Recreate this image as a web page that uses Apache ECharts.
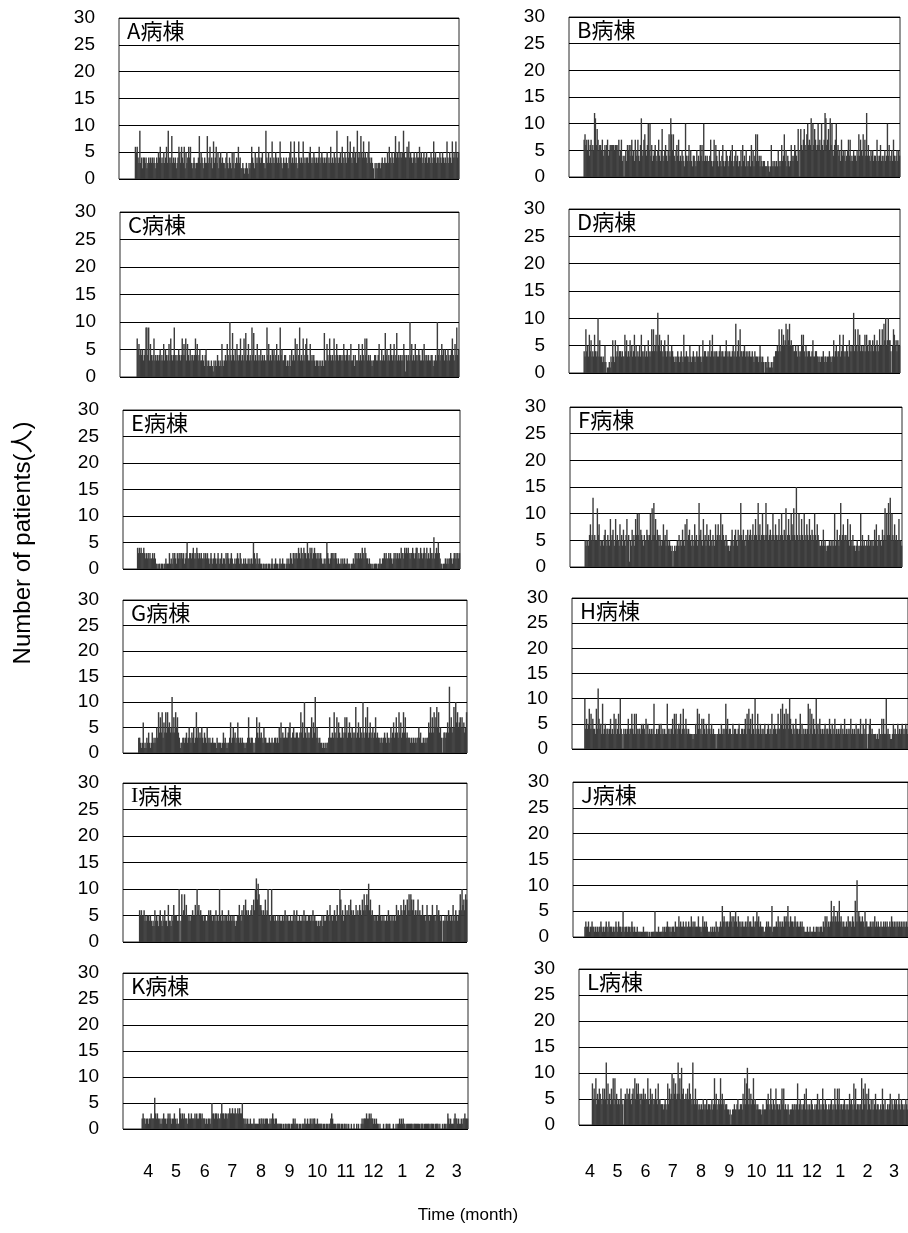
<!DOCTYPE html>
<html>
<head>
<meta charset="utf-8">
<title>Daily patients by ward</title>
<script src="https://cdn.jsdelivr.net/npm/echarts@6/dist/echarts.min.js"></script>
<style>
  html, body { margin: 0; padding: 0; background: #fff; }
  #chart { width: 908px; height: 1233px; }
</style>
</head>
<body>
<div id="chart"></div>
<script>
// Ward names, one small panel per ward
const wardNames = ['A病棟', 'B病棟', 'C病棟', 'D病棟', 'E病棟', 'F病棟',
                   'G病棟', 'H病棟', 'I病棟', 'J病棟', 'K病棟', 'L病棟'];

// Month tick labels (fiscal year, April to March) and month lengths
const monthLabels = ['4', '5', '6', '7', '8', '9', '10', '11', '12', '1', '2', '3'];
const monthDays = [30, 31, 30, 31, 31, 30, 31, 30, 31, 31, 28, 31];

// Y axis ticks
const yTicks = [0, 5, 10, 15, 20, 25, 30];

// Daily patient counts, April 1 to March 31 (365 days per ward)
const wardA = [
6,5,6,4,3,9,3,4,2,4, 4,3,4,2,3,4,3,4,3,4, 3,4,3,2,4,3,5,4,6,3, 4,3,5,3,4,6,3,9,4,3, 4,8,3,4,3,4,2,3,4,6,
5,3,6,4,3,6,2,5,3,4, 6,4,6,3,2,3,4,3,2,3, 3,4,8,3,5,4,3,2,4,3, 3,8,3,4,6,3,4,2,7,3, 4,6,3,5,2,4,5,3,4,3,
3,2,4,5,3,2,4,3,2,5, 3,5,2,3,4,3,6,3,4,2, 2,3,2,1,2,3,2,1,3,2, 3,6,4,3,2,5,3,4,3,6, 4,3,4,5,3,3,2,9,4,3,
5,3,4,3,7,3,4,3,5,4, 3,4,3,7,4,3,2,4,3,3, 4,3,2,4,5,7,3,4,3,7, 3,4,3,2,7,4,3,4,3,7, 3,4,3,4,4,3,5,6,3,4,
3,5,4,3,4,3,4,6,3,4, 5,4,3,4,3,4,5,3,4,3, 6,3,4,3,5,4,3,9,4,3, 4,5,3,6,4,3,5,4,3,8, 4,5,7,4,3,5,6,4,5,3,
9,4,5,4,8,5,4,7,4,5, 4,3,5,7,4,3,4,3,2,0, 3,2,3,2,3,3,2,3,4,3, 3,4,3,3,5,3,6,4,3,5, 4,3,5,8,4,5,4,7,4,5,
4,5,9,5,4,4,6,5,7,4, 5,4,3,4,5,4,3,5,4,4, 6,4,5,3,4,5,3,4,5,3, 4,4,3,5,4,3,7,4,5,3, 4,4,3,5,4,3,5,4,3,4,
3,7,4,3,5,4,3,7,4,5, 4,7,5,4,5
];
const wardB = [
7,8,6,7,5,7,4,6,7,5, 6,5,12,11,6,9,7,5,6,6, 5,7,4,5,6,5,6,7,4,5, 6,6,6,6,6,5,6,6,6,5, 7,4,5,7,3,4,0,4,5,3,
6,5,6,4,6,7,4,5,3,7, 4,5,7,4,3,6,11,4,5,7, 8,5,4,6,10,5,10,4,6,3, 4,5,6,4,3,5,7,4,3,5, 9,4,3,5,6,4,3,5,8,4,
11,8,5,8,4,3,5,6,4,7, 3,4,3,5,4,3,2,10,4,3, 4,6,3,5,3,2,4,4,3,2, 5,3,4,3,6,4,6,3,10,3, 4,3,4,3,3,4,7,3,2,3,
7,3,6,4,3,2,5,3,2,4, 6,3,2,3,5,4,3,2,4,5, 3,6,2,3,4,5,3,4,2,3, 3,5,2,6,3,4,2,5,3,2, 3,4,2,6,3,5,2,4,8,3,
8,3,4,2,4,3,2,3,3,2, 2,2,3,2,1,2,6,2,3,2, 3,2,3,2,5,3,2,3,6,3, 4,8,3,5,2,4,3,2,3,6, 4,3,4,6,5,4,3,9,5,0,
9,6,5,7,9,6,5,8,10,6, 7,6,11,5,10,6,9,7,5,6, 10,6,7,5,10,6,5,7,12,11, 6,7,9,5,11,6,10,5,4,6, 7,10,5,6,4,5,3,7,4,5,
4,5,3,4,5,7,4,7,3,4, 3,5,4,4,3,5,4,8,4,7, 5,4,8,5,7,4,12,4,6,4, 3,5,4,5,3,4,4,3,7,4, 3,4,6,3,4,3,4,5,3,4,
10,4,6,3,4,5,3,7,4,3, 4,5,3,5,4
];
const wardC = [
7,5,6,4,5,4,5,3,4,5, 9,9,4,9,3,6,4,3,4,7, 3,4,3,4,3,4,5,3,4,3, 6,3,5,4,3,4,6,3,7,4, 3,4,9,4,3,4,3,5,4,3,
4,7,4,6,4,7,3,6,4,3, 5,3,4,4,3,4,7,4,6,3, 4,5,3,3,4,3,2,4,5,3, 2,3,2,2,3,2,1,3,2,3, 2,4,3,2,3,2,6,3,2,3,
4,3,6,4,3,10,4,3,8,4, 3,5,3,6,4,3,4,7,3,4, 3,7,4,8,3,4,6,3,4,3, 9,4,8,3,4,3,6,3,4,3, 5,3,4,3,4,3,3,9,4,6,
3,4,3,5,4,5,3,4,6,3, 4,3,9,4,5,3,3,4,4,2, 3,2,3,4,2,5,3,4,3,7, 4,6,3,4,9,3,4,3,7,3, 4,6,7,4,3,3,6,3,4,3,
4,3,2,3,3,2,3,2,3,2, 3,2,8,3,3,6,4,3,7,4, 3,4,3,7,4,3,6,4,3,4, 4,3,4,3,6,4,3,4,5,3, 4,3,6,3,3,4,2,4,3,3,
3,6,3,4,3,6,4,3,7,4, 7,3,4,3,4,3,2,3,3,4, 4,3,3,4,6,3,3,5,3,4, 3,8,4,5,3,4,3,6,4,3, 4,6,3,4,8,3,4,3,4,3,
4,3,6,4,1,4,3,4,3,10, 4,6,3,4,3,6,4,3,4,5, 4,3,3,5,3,6,4,3,4,3, 4,3,3,4,4,3,2,3,4,3, 10,4,5,3,4,6,4,5,3,5,
4,3,5,4,3,4,5,7,4,3, 6,4,9,4,5
];
const wardD = [
4,3,8,4,5,3,7,4,6,3, 4,3,7,4,3,4,10,3,6,3, 3,2,3,2,5,2,0,1,1,2, 1,3,2,6,3,2,6,3,4,5, 3,4,4,3,4,3,3,7,4,6,
3,4,3,6,4,5,3,4,7,3, 5,3,4,3,5,3,7,4,3,4, 5,3,4,3,6,4,3,4,8,4, 8,4,5,7,4,11,5,7,4,6, 4,3,5,6,4,3,4,7,3,4,
3,5,4,3,2,3,2,3,4,3, 2,3,4,3,2,7,3,3,4,3, 3,2,5,3,2,3,4,3,2,3, 4,3,3,5,3,2,3,6,3,4, 4,3,3,4,3,6,3,4,7,3,
4,3,4,4,3,3,4,5,3,4, 4,3,3,4,6,3,4,3,4,3, 3,4,5,3,4,9,3,4,6,3, 8,4,4,3,4,5,3,4,3,4, 3,4,3,3,4,3,2,4,3,3,
3,2,3,5,3,2,3,2,0,2, 2,1,3,2,1,1,2,1,2,3, 3,4,4,5,4,8,5,4,8,5, 7,5,6,9,5,8,6,9,5,6, 5,5,4,4,5,4,3,5,4,3,
4,7,5,7,4,3,5,4,3,4, 4,3,3,4,6,3,3,4,4,3, 3,2,3,2,3,3,4,2,3,3, 2,3,3,4,3,2,3,3,6,3, 4,5,3,4,4,7,3,4,5,7,
4,3,4,5,4,3,6,4,5,4, 5,11,4,8,5,4,8,5,7,4, 5,4,5,4,7,4,7,5,4,6, 6,4,5,6,4,7,5,4,6,5, 4,8,5,5,8,5,9,6,10,5,
6,10,6,6,4,0,5,8,7,5, 6,4,6,5,5
];
const wardE = [
4,3,4,3,4,3,3,4,3,2, 3,2,3,2,3,2,2,3,2,3, 2,1,1,0,1,1,0,1,1,0, 1,1,2,1,1,1,3,1,2,1, 3,2,3,2,1,3,2,3,2,3,
3,2,3,1,2,3,5,2,2,3, 3,2,3,4,2,3,2,4,3,2, 3,2,3,2,2,3,2,3,2,3, 2,1,2,3,2,1,2,3,2,1, 2,3,2,1,2,3,1,2,2,1,
3,2,3,2,1,2,3,2,1,1, 2,1,2,3,2,1,3,2,1,1, 2,1,2,1,1,2,1,2,1,2, 1,5,3,2,1,3,2,1,2,1, 1,0,1,1,0,1,1,0,1,1,
0,1,2,1,0,1,2,1,1,0, 1,2,1,1,2,1,1,0,1,2, 1,2,1,3,2,1,3,2,3,2, 3,2,4,3,2,4,3,2,4,3, 3,2,5,3,2,4,3,4,2,3,
4,3,2,3,2,3,2,3,2,1, 1,2,1,2,5,3,2,1,2,3, 3,2,3,2,3,2,1,2,1,1, 2,1,2,1,2,1,1,2,1,1, 1,0,1,1,2,1,3,2,3,2,
3,2,3,2,4,3,2,4,3,2, 2,1,2,1,1,0,1,0,1,1, 1,0,1,1,2,1,1,2,2,3, 2,3,2,2,3,2,3,2,1,2, 3,2,3,2,3,2,3,2,4,3,
3,2,4,3,4,3,4,3,2,3, 3,4,3,2,3,4,4,2,3,2, 4,3,2,3,4,3,2,4,2,3, 2,4,3,2,3,6,2,3,4,3, 5,3,2,1,1,0,1,1,2,1,
2,1,2,2,3,2,1,2,3,2, 3,2,3,2,3
];
const wardF = [
5,4,5,5,4,6,8,5,6,13, 5,6,5,5,11,6,8,5,4,5, 5,4,6,7,5,4,6,5,4,9, 5,6,7,5,4,9,5,6,5,4, 8,5,6,4,7,5,4,6,9,5,
6,1,5,4,7,5,6,4,9,6, 10,6,10,5,7,6,5,4,6,5, 5,7,6,5,6,10,5,11,6,12, 6,9,5,7,6,4,6,5,4,5, 8,5,6,4,7,5,4,5,4,3,
4,0,3,4,3,4,5,4,6,4, 5,4,7,5,4,8,5,9,5,6, 7,5,4,6,5,4,8,5,6,4, 5,12,6,7,5,4,9,5,6,4, 8,5,6,4,7,5,4,6,5,4,
8,5,6,8,5,6,10,5,8,6, 5,4,6,5,4,4,3,4,5,7, 5,4,6,7,5,4,7,5,6,12, 6,5,7,5,4,6,5,7,5,6, 7,5,6,8,5,6,9,6,5,12,
6,8,5,6,10,6,5,6,12,6, 8,5,6,7,5,6,10,6,5,8, 6,5,6,9,5,6,10,6,5,7, 6,11,5,6,9,6,5,10,8,6, 11,6,5,15,6,5,10,6,5,9,
6,5,10,6,5,8,6,5,9,6, 5,7,6,5,10,6,5,8,6,5, 4,4,5,4,7,4,5,4,3,4, 4,5,4,5,4,5,4,10,4,5, 7,5,4,6,12,5,6,8,5,6,
6,5,9,5,4,8,5,4,6,4, 4,3,4,5,4,3,4,10,4,6, 4,5,4,4,5,4,6,4,5,5, 4,5,4,7,5,8,4,5,6,5, 5,4,7,5,6,11,5,10,6,12,
6,13,5,10,6,5,8,5,6,5, 5,9,5,5,4
];
const wardG = [
3,3,2,1,2,6,1,2,1,3, 2,4,2,1,2,4,2,3,2,3, 5,3,8,4,7,4,8,3,6,4, 8,4,8,5,6,4,5,11,4,7, 4,8,5,7,4,3,1,2,2,3,
3,2,3,4,2,3,5,3,2,4, 3,5,2,3,8,3,5,3,4,3, 5,3,2,4,3,2,5,3,2,3, 2,2,3,2,2,2,1,3,2,2, 2,2,1,2,4,2,3,2,1,2,
2,3,6,2,3,5,3,4,2,3, 6,3,2,3,2,3,2,2,1,2, 2,3,7,3,2,3,3,2,0,2, 3,7,4,3,6,3,4,3,2,5, 3,3,2,2,2,3,2,2,3,2,
2,3,3,2,3,2,5,3,6,3, 4,3,3,5,3,3,4,5,6,3, 3,4,5,3,3,4,4,3,3,4, 8,4,6,3,10,4,3,5,3,4, 3,5,7,3,6,4,11,3,5,3,
2,3,2,2,1,2,1,2,1,2, 2,3,7,3,3,4,3,8,4,3, 7,3,6,4,3,3,5,3,4,7, 4,7,3,4,6,4,3,5,4,3, 4,9,3,4,6,3,5,4,3,10,
4,3,7,4,9,3,4,6,3,4, 5,3,4,7,3,4,3,3,2,3, 3,2,3,4,3,2,4,3,2,3, 5,3,4,6,3,4,7,4,3,8, 4,6,3,4,8,4,7,3,4,3,
3,3,2,3,2,3,2,3,2,3, 3,5,3,4,2,2,3,2,3,2, 3,3,6,4,9,4,7,4,8,5, 7,9,5,8,4,5,3,0,3,4, 4,3,4,6,4,13,5,7,4,5,
9,5,10,6,8,5,6,7,5,7, 5,6,4,5,8
];
const wardH = [
10,4,6,4,5,8,4,7,4,6, 4,4,3,8,4,12,6,4,5,3, 9,3,4,5,3,4,4,3,4,6, 3,4,3,7,4,6,3,4,7,3, 10,4,3,0,4,3,4,3,4,6,
3,4,4,7,4,3,7,3,7,4, 3,4,4,3,5,4,5,4,3,6, 3,5,3,4,3,4,3,4,9,3, 3,4,3,4,5,3,5,3,4,3, 4,3,3,9,4,3,4,3,4,6,
3,7,4,7,3,4,5,4,7,3, 4,8,4,3,6,4,3,4,3,3, 3,3,2,3,3,5,3,8,4,7, 4,3,6,3,6,4,3,5,3,4, 7,4,3,5,3,4,3,3,0,3,
3,4,3,3,5,3,4,3,4,9, 4,6,3,4,4,3,3,5,3,4, 4,3,3,4,5,3,3,4,4,3, 4,6,3,7,4,8,4,6,3,7, 4,3,10,4,3,7,4,3,5,3,
4,3,4,5,3,3,4,5,3,4, 3,7,3,4,5,4,3,4,7,4, 4,8,5,9,4,7,4,8,5,7, 4,10,6,4,3,5,4,3,6,4, 4,3,4,7,3,5,3,4,3,4,
3,4,9,3,8,4,7,3,6,4, 3,10,4,5,3,6,4,3,4,3, 4,5,3,4,4,3,6,4,3,5, 3,4,6,3,4,3,4,3,4,5, 3,4,3,6,3,4,3,4,3,4,
6,3,4,3,4,3,5,3,4,4, 3,6,3,3,5,3,4,6,3,0, 3,5,6,3,4,3,3,3,3,2, 3,2,4,3,3,6,3,6,3,3, 10,3,4,3,3,2,2,3,5,3,
4,3,3,5,3,4,3,4,5,3, 4,3,5,4,3
];
const wardI = [
6,5,6,5,5,6,4,5,4,5, 5,4,5,4,3,4,3,6,4,5, 4,3,5,6,4,3,5,4,6,4, 4,3,7,4,4,3,5,4,7,5, 5,5,4,4,10,0,4,9,5,6,
9,5,7,5,5,4,5,4,5,6, 5,5,7,5,10,6,7,5,6,5, 5,4,5,5,4,4,5,6,5,6, 5,4,5,5,4,6,4,5,4,10, 5,4,6,4,5,4,5,5,4,6,
4,5,4,5,4,5,4,3,4,5, 5,7,5,4,6,5,7,5,8,6, 5,6,5,5,6,7,5,8,6,10, 12,8,11,9,7,7,6,5,6,5, 8,5,6,10,5,5,4,10,5,5,
4,5,4,4,5,4,5,4,4,5, 4,5,6,4,5,5,4,4,5,4, 4,5,6,4,5,6,4,4,5,4, 4,5,4,6,4,5,4,4,5,5, 4,5,4,6,4,5,4,4,3,4,
3,4,4,5,3,5,4,4,5,6, 5,4,7,5,5,4,5,6,5,4, 7,5,5,10,8,5,6,4,5,7, 5,6,5,7,5,8,6,5,6,5, 5,7,5,6,5,7,6,5,8,6,
9,6,7,9,7,11,6,8,5,6, 5,5,4,5,5,4,5,7,5,4, 5,4,5,4,4,5,4,6,5,4, 5,4,5,4,5,4,7,5,6,5, 5,7,6,5,8,6,7,5,8,6,
9,6,9,8,6,8,5,6,5,6, 8,5,6,5,5,7,5,5,4,5, 7,5,5,4,5,5,7,5,5,4, 5,7,5,6,5,4,5,0,4,4, 5,4,5,4,6,5,4,5,4,7,
5,4,6,5,4,5,6,9,6,10, 7,8,6,9,8
];
const wardJ = [
2,3,2,2,3,1,2,2,3,2, 2,1,2,1,2,1,2,2,3,2, 1,2,1,2,3,2,1,3,2,2, 2,1,2,1,2,3,2,1,3,2, 2,1,2,5,2,1,2,2,1,2,
2,1,2,3,2,1,2,1,1,2, 1,1,1,1,1,1,2,1,1,1, 1,1,0,1,0,1,1,1,1,5, 1,1,1,2,1,1,1,1,2,1, 2,1,2,3,2,2,1,2,1,2,
2,1,3,2,2,2,4,2,3,2, 2,3,2,2,3,2,2,3,2,2, 4,2,3,2,3,2,2,2,4,2, 2,1,2,4,2,3,2,3,2,1, 1,1,2,1,2,1,2,1,3,2,
2,1,2,3,2,6,3,4,3,2, 3,3,2,3,5,3,4,2,4,3, 5,3,2,4,3,2,3,2,3,2, 2,3,2,3,4,2,3,3,2,2, 4,2,3,3,5,3,4,2,3,2,
2,2,1,1,2,3,2,3,2,2, 2,6,1,2,2,2,3,2,4,3, 2,3,2,3,2,4,3,4,3,6, 3,2,4,3,3,2,3,4,3,2, 3,2,2,3,2,3,2,2,1,1,
1,2,1,1,2,1,1,1,2,1, 1,2,2,1,2,1,2,2,1,3, 2,4,3,4,2,3,2,3,7,3, 4,6,3,4,3,5,3,7,3,4, 3,2,3,2,2,3,2,4,3,3,
3,2,4,3,2,7,3,11,3,5, 4,3,3,4,3,2,5,3,3,2, 2,2,3,2,3,2,3,4,2,3, 2,3,2,2,3,2,2,3,2,3, 2,3,2,2,3,2,4,3,2,3,
2,3,2,3,2,3,2,3,2,3, 2,3,2,3,2
];
const wardK = [
2,3,2,2,1,2,2,1,2,2, 3,2,2,2,6,3,2,3,2,2, 1,2,1,2,3,2,2,1,2,3, 2,3,2,1,2,2,3,2,1,2, 1,1,4,3,2,3,2,3,2,2,
2,1,3,2,2,3,2,2,2,3, 2,3,2,2,3,3,2,3,2,2, 2,1,2,1,2,2,1,2,5,3, 3,2,3,3,2,3,2,2,3,5, 3,3,2,3,3,2,3,3,4,3,
3,4,3,3,4,3,3,4,3,4, 3,3,5,2,2,1,2,1,2,1, 1,2,1,1,1,2,1,1,1,1, 1,2,1,2,2,1,2,1,2,2, 2,1,1,2,1,2,3,2,1,2,
2,1,1,1,1,1,1,0,1,0, 1,1,0,1,1,1,0,1,1,2, 1,2,1,1,1,0,1,1,0,1, 1,1,2,1,1,2,1,1,2,1, 2,1,2,2,1,1,2,1,1,1,
1,1,0,1,1,0,1,1,0,1, 1,2,3,2,1,1,1,0,1,1, 1,1,0,1,1,0,1,1,0,1, 0,1,0,0,1,0,0,1,0,0, 1,0,1,0,0,1,2,1,2,2,
2,3,2,2,3,2,3,2,2,1, 2,1,2,1,1,0,1,0,0,0, 1,0,0,1,1,0,1,1,0,0, 0,1,0,0,1,0,1,1,2,1, 2,1,2,1,1,0,1,1,1,1,
1,1,1,0,1,1,1,1,1,1, 1,0,1,1,1,0,1,1,1,1, 1,1,0,1,1,1,1,0,1,1, 1,1,0,1,0,0,1,0,1,1, 0,1,3,2,1,2,1,1,1,2,
3,2,2,1,2,1,1,2,1,2, 2,3,2,2,2
];
const wardL = [
8,5,7,5,9,4,6,5,7,6, 5,4,7,5,7,5,12,4,8,5, 6,4,7,5,9,4,9,5,6,4, 5,4,5,7,5,4,0,5,6,5, 7,5,6,7,5,4,6,7,5,9,
5,8,6,8,5,6,4,6,5,7, 5,6,5,5,9,5,4,7,5,6, 5,4,5,7,5,4,8,5,5,4, 4,4,3,4,5,4,3,8,4,7, 5,6,10,5,9,6,8,5,6,12,
6,9,5,11,6,7,5,5,6,5, 7,5,8,6,5,4,12,5,4,7, 4,5,4,3,4,3,4,3,5,4, 3,4,5,3,4,4,3,4,5,3, 4,9,4,6,3,4,5,4,9,4,
6,4,5,3,4,4,3,3,2,3, 0,2,3,3,4,3,3,4,5,3, 3,4,4,3,6,4,9,4,8,11, 4,7,4,6,4,5,9,4,5,4, 3,4,3,3,3,2,3,4,3,3,
3,5,4,6,4,3,7,4,3,5, 4,3,7,4,4,3,4,3,5,7, 4,7,3,4,3,3,4,3,2,3, 3,4,3,4,4,3,4,8,3,4, 5,3,4,3,4,6,3,7,3,4,
3,4,3,5,4,3,3,4,3,4, 6,3,5,3,4,3,7,4,3,5, 4,3,3,4,3,4,5,3,4,3, 7,4,3,7,4,7,3,4,4,3, 4,5,3,4,3,4,3,6,4,5,
4,3,8,4,7,3,4,4,3,4, 4,9,3,7,4,8,4,6,3,7, 4,3,5,3,5,3,4,6,3,4, 4,3,3,4,3,7,4,3,5,3, 3,4,3,4,6,3,5,4,3,5,
4,5,3,4,6,4,3,5,4,3, 4,3,5,4,3
];

const wardValues = [wardA, wardB, wardC, wardD, wardE, wardF,
                    wardG, wardH, wardI, wardJ, wardK, wardL];

// Panel frames in page pixels; `lead` = empty day slots before April 1
const panelBoxes = [
  { left: 119, top: 18,  width: 340, height: 161, lead: 18 },
  { left: 569, top: 17,  width: 331, height: 160, lead: 17 },
  { left: 120, top: 212, width: 339, height: 165, lead: 19 },
  { left: 569, top: 209, width: 331, height: 164, lead: 17 },
  { left: 123, top: 410, width: 337, height: 159, lead: 16 },
  { left: 570, top: 407, width: 332, height: 160, lead: 17 },
  { left: 123, top: 600, width: 344, height: 153, lead: 17 },
  { left: 572, top: 598, width: 345, height: 151, lead: 14 },
  { left: 123, top: 783, width: 344, height: 159, lead: 18 },
  { left: 573, top: 782, width: 344, height: 155, lead: 13 },
  { left: 123, top: 973, width: 345, height: 156, lead: 21 },
  { left: 579, top: 969, width: 346, height: 156, lead: 15 }
];

// Month label strips under the bottom row (left and right columns)
const monthStrips = [
  { left: 134, top: 1150, width: 337, height: 10 },
  { left: 576, top: 1150, width: 337, height: 10 }
];

const LATIN = '"Liberation Sans", Arial, "Noto Sans CJK JP", sans-serif';
const CJK = '"Noto Sans CJK JP", "Liberation Sans", sans-serif';
const SERIF = '"Liberation Serif", "DejaVu Serif", serif';
const BAR_COLOR = '#3c3c3c';

// Day index -> month label at the middle of each month
const monthMidLabel = {};
let dayStart = 0;
monthDays.forEach((len, m) => {
  monthMidLabel[dayStart + Math.floor(len / 2)] = monthLabels[m];
  dayStart += len;
});
const yearDays = dayStart;

const grids = [], xAxes = [], yAxes = [], series = [], titles = [];

// Ward caption; the letter "I" is set in a serif face like the printed caption
function wardCaption(name) {
  return name.charAt(0) === 'I' ? '{s|I}' + name.slice(1) : name;
}

// Daily bars: one rect per day, slightly wider than its slot so that
// neighbouring days merge into a solid silhouette without seams
function renderDayBar(params, api) {
  const v = api.value(1);
  if (v == null || isNaN(v)) return null;
  const top = api.coord([api.value(0), v]);
  const base = api.coord([api.value(0), 0]);
  const w = api.size([1, 0])[0] * 1.6;
  return {
    type: 'rect',
    shape: { x: top[0] - w / 2, y: top[1], width: w, height: base[1] - top[1] },
    style: { fill: BAR_COLOR }
  };
}

panelBoxes.forEach((box, i) => {
  const values = wardValues[i];
  const slots = box.lead + values.length;
  const cats = Array.from({ length: slots }, (_, k) => String(k));
  grids.push({
    left: box.left, top: box.top, width: box.width, height: box.height,
    show: true, borderColor: '#2a2a2a', borderWidth: 1, backgroundColor: '#fff'
  });
  xAxes.push({
    gridIndex: i, type: 'category', data: cats, boundaryGap: true,
    axisLine: { show: false }, axisTick: { show: false },
    axisLabel: { show: false }, splitLine: { show: false }
  });
  yAxes.push({
    gridIndex: i, type: 'value', min: yTicks[0], max: yTicks[yTicks.length - 1],
    interval: yTicks[1] - yTicks[0],
    axisLine: { show: false }, axisTick: { show: false },
    axisLabel: { color: '#000', fontSize: 19, fontFamily: LATIN, margin: 24 },
    splitLine: { show: true, lineStyle: { color: '#000', width: 1 } }
  });
  series.push({
    type: 'custom', xAxisIndex: i, yAxisIndex: i,
    renderItem: renderDayBar,
    encode: { x: 0, y: 1 },
    data: values.map((v, d) => [box.lead + d, v]),
    silent: true
  });
  titles.push({
    text: wardCaption(wardNames[i]), left: box.left + 8, top: box.top + 2, padding: 0,
    textStyle: {
      fontFamily: CJK, fontSize: 22, fontWeight: 'normal', color: '#000',
      rich: { s: { fontFamily: SERIF, fontSize: 22, color: '#000' } }
    }
  });
});

// Month label axes
const dayCats = Array.from({ length: yearDays }, (_, k) => String(k));
monthStrips.forEach((strip) => {
  const gi = grids.length;
  grids.push({ left: strip.left, top: strip.top, width: strip.width, height: strip.height, show: false });
  xAxes.push({
    gridIndex: gi, type: 'category', data: dayCats, boundaryGap: true,
    axisLine: { show: false }, axisTick: { show: false }, splitLine: { show: false },
    axisLabel: {
      interval: (idx) => monthMidLabel[idx] !== undefined,
      formatter: (val, idx) => monthMidLabel[idx] || '',
      color: '#000', fontSize: 18, fontFamily: LATIN, margin: 3
    }
  });
  yAxes.push({ gridIndex: gi, type: 'value', show: false, min: 0, max: 1 });
});

const option = {
  animation: false,
  backgroundColor: '#fff',
  title: titles,
  grid: grids,
  xAxis: xAxes,
  yAxis: yAxes,
  series: series,
  graphic: [
    {
      type: 'text', x: 23, y: 543, rotation: Math.PI / 2,
      style: { text: 'Number of patients(人)', font: '24px ' + LATIN, fill: '#000',
               align: 'center', verticalAlign: 'middle' }
    },
    {
      type: 'text', x: 468, y: 1215,
      style: { text: 'Time (month)', font: '17px ' + LATIN, fill: '#000',
               align: 'center', verticalAlign: 'middle' }
    }
  ]
};

const chart = echarts.init(document.getElementById('chart'), null, { renderer: 'canvas' });
chart.setOption(option);
</script>
</body>
</html>
